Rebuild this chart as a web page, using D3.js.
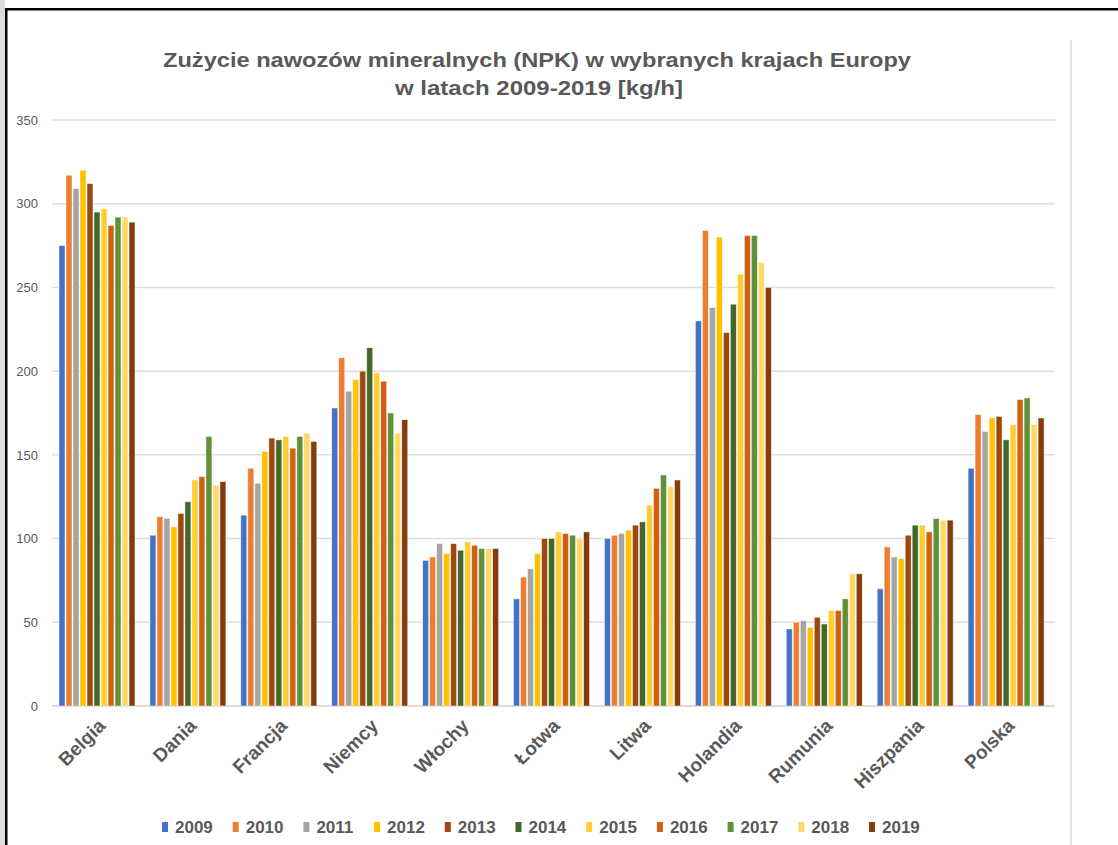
<!DOCTYPE html>
<html>
<head>
<meta charset="utf-8">
<script src="https://cdn.jsdelivr.net/npm/d3@7"></script>
<style>
  body { margin: 0; background: #fff; }
  svg { display: block; font-family: "Liberation Sans", Arial, sans-serif; }
</style>
</head>
<body>
<div id="chart"></div>
<script>
// kraje i lata
var countries = ['Belgia', 'Dania', 'Francja', 'Niemcy', 'Włochy', 'Łotwa', 'Litwa', 'Holandia', 'Rumunia', 'Hiszpania', 'Polska'];
var years = ['2009', '2010', '2011', '2012', '2013', '2014', '2015', '2016', '2017', '2018', '2019'];
var yTicks = [0, 50, 100, 150, 200, 250, 300, 350];

// wartosci, jeden wiersz na kraj (2009..2019)
var belgia    = [275, 317, 309, 320, 312, 295, 297, 287, 292, 292, 289];
var dania     = [102, 113, 112, 107, 115, 122, 135, 137, 161, 132, 134];
var francja   = [114, 142, 133, 152, 160, 159, 161, 154, 161, 163, 158];
var niemcy    = [178, 208, 188, 195, 200, 214, 199, 194, 175, 163, 171];
var wlochy    = [87, 89, 97, 91, 97, 93, 98, 96, 94, 94, 94];
var lotwa     = [64, 77, 82, 91, 100, 100, 104, 103, 102, 100, 104];
var litwa     = [100, 102, 103, 105, 108, 110, 120, 130, 138, 131, 135];
var holandia  = [230, 284, 238, 280, 223, 240, 258, 281, 281, 265, 250];
var rumunia   = [46, 50, 51, 47, 53, 49, 57, 57, 64, 79, 79];
var hiszpania = [70, 95, 89, 88, 102, 108, 108, 104, 112, 111, 111];
var polska    = [142, 174, 164, 172, 173, 159, 168, 183, 184, 168, 172];

var seriesColors = ['#4472C4', '#ED7D31', '#A5A5A5', '#FFC000', '#9E480E', '#43682B',
                    '#FFCD33', '#D26012', '#5F913B', '#FFD966', '#843C0C'];

var rows = [belgia, dania, francja, niemcy, wlochy, lotwa, litwa, holandia, rumunia, hiszpania, polska];
var data = countries.map(function(c, i) {
    var d = {country: c};
    years.forEach(function(y, j) { d[y] = rows[i][j]; });
    return d;
});

var width = 1118, height = 845;
var svg = d3.select('#chart').append('svg').attr('width', width).attr('height', height);

// ramka jak na zrzucie
svg.append('rect').attr('x', 0).attr('y', 0).attr('width', 5).attr('height', height).attr('fill', '#dcdcdc');
svg.append('rect').attr('x', 5).attr('y', 8).attr('width', 2.5).attr('height', height - 8).attr('fill', '#000');
svg.append('rect').attr('x', 5).attr('y', 8).attr('width', width - 5).attr('height', 2.5).attr('fill', '#000');
svg.append('rect').attr('x', 1070).attr('y', 40).attr('width', 2).attr('height', height - 40).attr('fill', '#e4e4e4');

// tytul
var title = svg.append('text')
    .attr('text-anchor', 'middle')
    .attr('font-weight', 'bold')
    .attr('font-size', 21)
    .attr('fill', '#595959');
title.append('tspan').attr('x', 537).attr('y', 67)
    .attr('textLength', 748).attr('lengthAdjust', 'spacingAndGlyphs')
    .text('Zużycie nawozów mineralnych (NPK) w wybranych krajach Europy');
title.append('tspan').attr('x', 539).attr('y', 95)
    .attr('textLength', 288).attr('lengthAdjust', 'spacingAndGlyphs')
    .text('w latach 2009-2019  [kg/h]');

var x0 = d3.scaleBand()
    .domain(countries)
    .range([52, 1052])
    .paddingInner(0.143)
    .paddingOuter(0.0715);

var x1 = d3.scaleBand()
    .domain(years)
    .rangeRound([0, x0.bandwidth()]);

var y = d3.scaleLinear()
    .domain([0, 350])
    .range([706, 120]);

// siatka
svg.append('g')
    .selectAll('line')
    .data(yTicks)
    .enter().append('line')
    .attr('x1', 52).attr('x2', 1055)
    .attr('y1', d => y(d)).attr('y2', d => y(d))
    .attr('stroke', d => d === 0 ? '#d0d0d0' : '#dedede')
    .attr('stroke-width', 1.5);

// os Y
var yAxis = svg.append('g')
    .attr('transform', 'translate(38,0)')
    .call(d3.axisLeft(y).tickValues(yTicks).tickSize(0).tickPadding(0));
yAxis.select('.domain').remove();
yAxis.selectAll('text')
    .attr('font-family', '"Liberation Sans", Arial, sans-serif')
    .attr('font-size', 13)
    .attr('fill', '#595959');

// slupki
svg.append('g')
    .selectAll('g')
    .data(data)
    .enter().append('g')
    .attr('transform', d => 'translate(' + x0(d.country) + ',0)')
    .selectAll('rect')
    .data(d => years.map(function(k) { return {key: k, value: d[k]}; }))
    .enter().append('rect')
    .attr('x', d => x1(d.key) + 0.5)
    .attr('y', d => y(d.value))
    .attr('width', x1.bandwidth() - 1)
    .attr('height', d => y(0) - y(d.value))
    .attr('fill', (d, i) => seriesColors[i])
    .attr('stroke', '#fff')
    .attr('stroke-opacity', 0.6)
    .attr('stroke-width', 0.8);

// etykiety krajow
svg.append('g')
    .selectAll('text')
    .data(countries)
    .enter().append('text')
    .attr('transform', d => 'translate(' + (x0(d) + x0.bandwidth() / 2 + 9) + ',727) rotate(-45)')
    .attr('text-anchor', 'end')
    .attr('font-size', 19)
    .attr('font-weight', 'bold')
    .attr('fill', '#595959')
    .text(d => d);

// legenda
var legend = svg.append('g')
    .selectAll('g')
    .data(years)
    .enter().append('g')
    .attr('transform', (d, i) => 'translate(' + (162 + i * 70.7) + ',827)');

legend.append('rect')
    .attr('x', 0).attr('y', -5)
    .attr('width', 6).attr('height', 10)
    .attr('fill', (d, i) => seriesColors[i]);

legend.append('text')
    .attr('x', 13).attr('y', 6)
    .attr('font-size', 17)
    .attr('font-weight', 'bold')
    .attr('fill', '#595959')
    .text(d => d);
</script>
</body>
</html>
